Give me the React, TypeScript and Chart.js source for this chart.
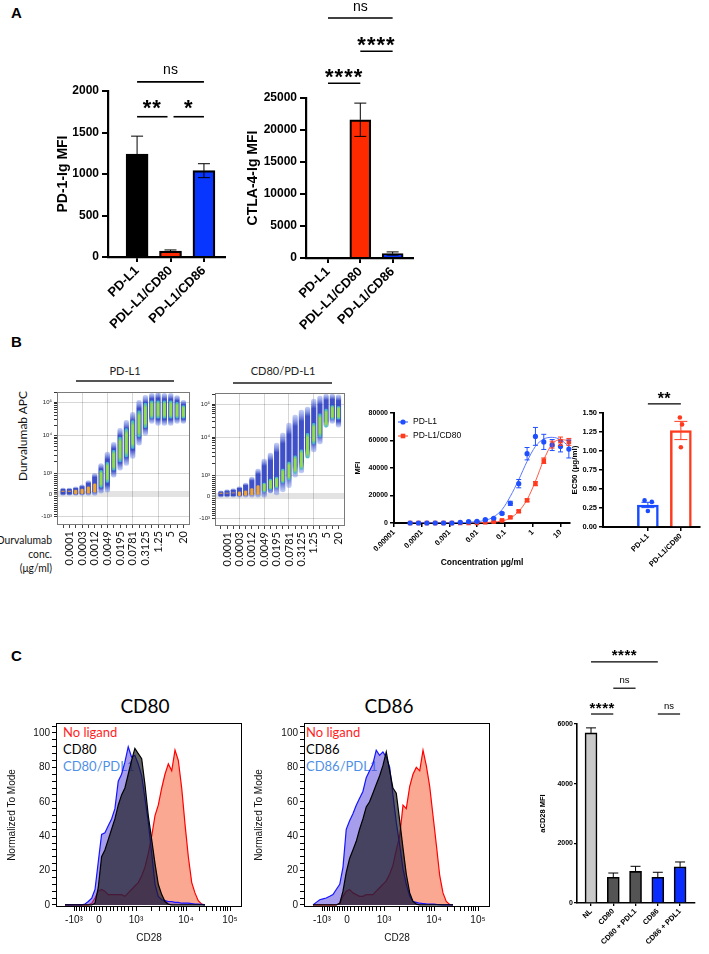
import React, { useEffect, useRef } from 'react';
import { Chart, registerables } from 'chart.js';

Chart.register(...registerables);

const ARIAL = '"Liberation Sans", Arial, Helvetica, sans-serif';
const CALIBRI = 'Lato, "Open Sans", "Liberation Sans", sans-serif';
Chart.defaults.color = '#000';
Chart.defaults.font.family = ARIAL;

// ---------------- Panel A data ----------------
const A_CATEGORIES = ['PD-L1', 'PDL-L1/CD80', 'PD-L1/CD86'];
const PD1_MEAN = [1240, 70, 1040];
const PD1_SEM = [216, 15, 84];
const CTLA4_MEAN = [40, 21600, 700];
const CTLA4_SEM = [15, 2600, 250];
const PD1_SIG = [
  { from: 0, to: 2, y: 2110, text: 'ns' },
  { from: 0, to: 1, y: 1690, text: '**' },
  { from: 1, to: 2, y: 1690, text: '*' },
];
const CTLA4_SIG = [
  { from: 0, to: 2, y: 37500, text: 'ns' },
  { from: 1, to: 2, y: 32300, text: '****' },
  { from: 0, to: 1, y: 27300, text: '****' },
];

// ---------------- Panel B data ----------------
const DURVA_TICK_LABELS = ['0.0001', '0.0003', '0.0012', '0.0049', '0.0195', '0.0781', '0.3125', '1.25', '5', '20'];
const PDL1_LO = [-50, -50, -50, -50, -50, -50, 50, 100, 810, 1200, 1620, 2480, 5460, 10000, 23000, 20000, 20000, 20000, 23000, 23000];
const PDL1_HI = [300, 300, 350, 450, 650, 1000, 1800, 3600, 6550, 16300, 28500, 49800, 115000, 163000, 187000, 200000, 187000, 187000, 160000, 115000];
const PDL1_CORE_LO = [0, 0, 20, 30, 50, 100, 330, 570, 1200, 2000, 2700, 4500, 9000, 17000, 33000, 33000, 33000, 33000, 33000, 33000];
const PDL1_CORE_HI = [150, 150, 200, 250, 350, 500, 1200, 1950, 4000, 9000, 16000, 28000, 55000, 95000, 110000, 110000, 110000, 110000, 100000, 80000];
const CD80PDL1_LO = [-50, -50, -50, -50, -50, -50, -50, -50, 0, 50, 200, 400, 900, 1130, 2800, 4030, 6550, 20100, 26000, 20000];
const CD80PDL1_HI = [250, 300, 350, 450, 620, 900, 1440, 2630, 3790, 6940, 13200, 26600, 46400, 65800, 81000, 142000, 175000, 200000, 200000, 190000];
const CD80PDL1_CORE_LO = [0, 0, 0, 20, 30, 50, 80, 190, 300, 380, 620, 760, 1100, 1400, 2800, 6600, 10000, 20000, 35000, 35000];
const CD80PDL1_CORE_HI = [120, 130, 150, 200, 250, 350, 500, 620, 800, 900, 1440, 2200, 3200, 4600, 13000, 26000, 50000, 70000, 90000, 85000];

const DOSE_CONC = [0.0000381, 0.0000763, 0.000153, 0.000305, 0.00061, 0.00122, 0.00244, 0.00488, 0.00977, 0.0195, 0.0391, 0.0781, 0.156, 0.3125, 0.625, 1.25, 2.5, 5, 10, 20];
const PDL1_MFI = [0, 0, 0, 0, 0, 0, 500, 1000, 1200, 2400, 3400, 7000, 14300, 28600, 50400, 63000, 59000, 56700, 55700, 53800];
const PDL1_MFI_SEM = [0, 0, 0, 0, 0, 0, 0, 300, 300, 400, 500, 700, 1500, 3000, 4500, 6500, 5500, 4000, 4000, 6500];
const CD80_MFI = [0, 0, 0, 0, 0, 0, 0, 0, 0, 500, 1000, 1900, 4100, 8500, 16500, 28600, 45300, 57000, 59500, 59000];
const CD80_MFI_SEM = [0, 0, 0, 0, 0, 0, 0, 0, 0, 0, 300, 400, 600, 800, 1000, 1500, 2000, 2500, 3000, 2500];
const PDL1_FIT = [0, 0, 0, 0, 0, 50, 200, 500, 1000, 1900, 4500, 9700, 19400, 31500, 44800, 55700, 61100, 62300, 60600, 55700];
const CD80_FIT = [0, 0, 0, 0, 0, 0, 0, 50, 100, 300, 700, 1500, 3600, 8500, 17000, 30300, 46000, 57400, 60600, 60000];
const DOSE_TICKS = [0.00001, 0.0001, 0.001, 0.01, 0.1, 1, 10];
const DOSE_TICK_LABELS = ['0.00001', '0.0001', '0.001', '0.01', '0.1', '1', '10'];

const EC50_CATEGORIES = ['PD-L1', 'PD-L1/CD80'];
const EC50_MEAN = [0.29, 1.27];
const EC50_SEM = [0.035, 0.12];
const EC50_PDL1_REPS = [0.35, 0.33, 0.21];
const EC50_CD80_REPS = [1.44, 1.35, 1.05];
const EC50_SIG = [{ from: 0, to: 1, y: 1.62, text: '**' }];

// ---------------- Panel C data ----------------
const CD28_BINS = [-1360, -1230, -1090, -960, -830, -690, -560, -430, -290, -160, -30, 70, 160, 250, 340, 430, 520, 610, 700, 790, 880, 970, 1110, 1300, 1510, 1760, 2060, 2400, 2790, 3270, 3800, 4430, 5180, 6030, 7020, 8200, 9550, 11300, 13500, 16000, 19000, 22700, 27000];
const CD80_NOLIGAND = [0, 0, 0, 0, 0, 0, 0, 0, 1, 4, 8, 9, 8, 6, 6, 6, 6, 6, 5, 7, 9, 11, 13, 17, 22, 30, 40, 52, 58, 68, 76, 82, 78, 90, 84, 68, 47, 28, 13, 7, 2.5, 0.5, 0];
const CD80_LIGAND = [0, 0, 0, 0, 0, 0, 0, 0, 0, 1, 10, 28, 32, 38, 44, 50, 58, 64, 68, 76, 84, 91, 88, 85, 70, 52, 38, 24, 12, 6, 2, 0.5, 0, 0, 0, 0, 0, 0, 0, 0, 0, 0, 0];
const CD80_PDL1 = [0, 0, 0, 0, 0, 0, 0.5, 2, 4, 9, 25, 41, 42, 46, 50, 56, 72, 76, 83, 92, 86, 87, 82, 75, 62, 48, 30, 12, 5, 3, 2.5, 2, 2, 1.5, 1.5, 1, 1, 1, 0.8, 0.5, 0.5, 0.3, 0];
const CD86_NOLIGAND = [0, 0, 0, 0, 0, 0, 0, 0, 1, 5, 8, 9, 7, 6, 5, 5, 6, 6, 6, 8, 10, 12, 14, 18, 23, 32, 40, 58, 56, 69, 76, 80, 78, 90, 81, 69, 52, 35, 17, 7, 2, 0.3, 0];
const CD86_LIGAND = [0, 0, 0, 0, 0, 0, 0, 0, 1, 8, 19, 27, 32, 37, 44, 50, 57, 60, 65, 70, 75, 81, 89, 78, 68, 65, 49, 33, 18, 7, 2, 0.5, 0, 0, 0, 0, 0, 0, 0, 0, 0, 0, 0];
const CD86_PDL1 = [0, 1.5, 3, 3.5, 4, 5, 6, 9, 12, 22, 44, 49, 53, 58, 62, 66, 74, 78, 82, 90, 87, 89, 86, 80, 64, 48, 35, 21, 12, 5, 2, 1.5, 1, 0.8, 0.6, 0.5, 0.5, 0.3, 0.2, 0, 0, 0, 0];

const C_CATEGORIES = ['NL', 'CD80', 'CD80 + PDL1', 'CD86', 'CD86 + PDL1'];
const ACD28_MEAN = [5700, 860, 1060, 860, 1210];
const ACD28_SEM = [170, 145, 170, 170, 165];
const ACD28_SIG = [
  { from: 0, to: 3, y: 8080, text: '****' },
  { from: 1, to: 2, y: 7200, text: 'ns' },
  { from: 0, to: 1, y: 6335, text: '****' },
  { from: 3, to: 4, y: 6335, text: 'ns' },
];

// ---------------- axis transforms (biexponential-like display) ----------------
function flowT(v: number) {
  if (v < 0) return (v / 1000) * 22;
  if (v <= 1000) return (v / 1000) * 21;
  if (v <= 1e4) return 21 + (Math.log10(v) - 3) * 38;
  return 59 + (Math.log10(v) - 4) * 33;
}
function histT(v: number) {
  if (v < 0) return (v / 1000) * 25;
  if (v <= 1000) return (v / 1000) * 37;
  if (v <= 1e4) return 37 + (Math.log10(v) - 3) * 50;
  return 87 + (Math.log10(v) - 4) * 44;
}
const plain = (v: any) => String(v);

// ---------------- plugins ----------------
const errorBarsPlugin = {
  id: 'errorBars',
  afterDatasetsDraw(chart: any) {
    const ctx = chart.ctx;
    chart.data.datasets.forEach((ds: any, di: number) => {
      if (!ds.errorBars) return;
      const meta = chart.getDatasetMeta(di);
      const ys = chart.scales[meta.yAxisID];
      meta.data.forEach((el: any, j: number) => {
        const e = ds.errorBars[j];
        if (!e) return;
        const raw = ds.data[j];
        const v = typeof raw === 'number' ? raw : raw.y;
        const x = el.x;
        const y0 = ys.getPixelForValue(v);
        const yUp = ys.getPixelForValue(v + e);
        const yDn = ys.getPixelForValue(v - e);
        const cap = ds.errorCap ?? 5;
        ctx.save();
        ctx.strokeStyle = Array.isArray(ds.errorColor) ? ds.errorColor[j] : ds.errorColor || '#000';
        ctx.lineWidth = ds.errorWidth || 1;
        ctx.beginPath();
        ctx.moveTo(x, y0);
        ctx.lineTo(x, yUp);
        ctx.moveTo(x - cap, yUp);
        ctx.lineTo(x + cap, yUp);
        if (ds.errorBoth) {
          ctx.moveTo(x, y0);
          ctx.lineTo(x, yDn);
          ctx.moveTo(x - cap, yDn);
          ctx.lineTo(x + cap, yDn);
        }
        ctx.stroke();
        ctx.restore();
      });
    });
  },
};

const sigPlugin = {
  id: 'sig',
  afterDraw(chart: any, _args: any, o: any) {
    if (!o || !o.items) return;
    const ctx = chart.ctx;
    const xs = chart.scales.x;
    const ys = chart.scales.y;
    ctx.save();
    o.items.forEach((it: any) => {
      let x1 = xs.getPixelForValue(it.from);
      let x2 = xs.getPixelForValue(it.to);
      o.items.forEach((q: any) => {
        if (q !== it && q.y === it.y) {
          if (q.from === it.to) x2 -= o.gap;
          if (q.to === it.from) x1 += o.gap;
        }
      });
      const y = ys.getPixelForValue(it.y);
      ctx.strokeStyle = '#000';
      ctx.lineWidth = o.lineWidth;
      ctx.beginPath();
      ctx.moveTo(x1, y);
      ctx.lineTo(x2, y);
      ctx.stroke();
      const star = it.text.startsWith('*');
      ctx.font = star ? o.starFont : o.nsFont;
      (ctx as any).letterSpacing = star ? o.starSpacing || '0px' : '0px';
      ctx.fillStyle = '#000';
      ctx.textAlign = 'center';
      ctx.textBaseline = 'alphabetic';
      const m = ctx.measureText(it.text);
      const mid = (m.actualBoundingBoxAscent - m.actualBoundingBoxDescent) / 2;
      const cy = y - (star ? o.starGap : o.nsGap);
      ctx.fillText(it.text, (x1 + x2) / 2, cy + mid);
      (ctx as any).letterSpacing = '0px';
    });
    ctx.restore();
  },
};

const framePlugin = {
  id: 'frame',
  afterDraw(chart: any, _a: any, o: any) {
    if (!o || !o.color) return;
    const { ctx, chartArea: a } = chart;
    ctx.save();
    ctx.strokeStyle = o.color;
    ctx.lineWidth = o.width || 1;
    ctx.strokeRect(Math.round(a.left) + 0.5, Math.round(a.top) + 0.5, Math.round(a.width) - 1, Math.round(a.height) - 1);
    ctx.restore();
  },
};

const doseLegendPlugin = {
  id: 'doseLegend',
  afterDraw(chart: any, _a: any, o: any) {
    if (!o || !o.show) return;
    const { ctx, chartArea: a } = chart;
    ctx.save();
    [0, 1].forEach((k) => {
      const ds = chart.data.datasets[k];
      const y = a.top + o.top + k * o.gap;
      const x0 = a.left + o.left;
      ctx.strokeStyle = ds.borderColor;
      ctx.fillStyle = ds.borderColor;
      ctx.lineWidth = 1;
      ctx.beginPath();
      ctx.moveTo(x0, y);
      ctx.lineTo(x0 + o.len, y);
      ctx.stroke();
      const cx = x0 + o.len / 2;
      ctx.beginPath();
      if (ds.pointStyle === 'rect') ctx.rect(cx - 2.3, y - 2.3, 4.6, 4.6);
      else ctx.arc(cx, y, 2.6, 0, Math.PI * 2);
      ctx.fill();
      ctx.fillStyle = '#000';
      ctx.font = o.font;
      ctx.textBaseline = 'middle';
      ctx.textAlign = 'left';
      ctx.fillText(ds.label, x0 + o.len + 5, y);
    });
    ctx.restore();
  },
};

const PLUGINS = [errorBarsPlugin, sigPlugin, framePlugin, doseLegendPlugin];

// ---------------- geometry helper ----------------
type Box = { cx: number; cy: number; cw: number; ch: number; L: number; T: number; R: number; B: number };
function geo(b: Box) {
  return {
    padding: { left: 0, top: b.T - b.cy, right: b.cx + b.cw - b.R, bottom: 0 },
    yWidth: b.L - b.cx,
    xHeight: b.cy + b.ch - b.B,
  };
}
const baseOptions = (b: Box) => ({
  responsive: false,
  animation: false,
  devicePixelRatio: 1,
  layout: { padding: geo(b).padding },
});

// ---------------- chart builders ----------------
const A1_BOX: Box = { cx: 40, cy: 55, cw: 195, ch: 285, L: 108, T: 91, R: 225, B: 257 };
const A2_BOX: Box = { cx: 240, cy: 0, cw: 200, ch: 340, L: 306, T: 98, R: 413, B: 258 };
const A_COLORS = ['#000000', '#ff2a00', '#0836ff'];

function buildA(box: Box, means: number[], sems: number[], xmin: number, ymax: number, step: number, title: string, titlePad: number, sig: any[], barTh: number, starGap: number) {
  const g = geo(box);
  return {
    type: 'bar',
    data: {
      datasets: [
        {
          data: means.map((y, i) => ({ x: i, y })),
          backgroundColor: A_COLORS,
          borderColor: '#000',
          borderWidth: 2.2,
          barThickness: barTh,
          errorBars: sems,
          errorBoth: true,
          errorColor: '#000',
          errorCap: 6,
          errorWidth: 1,
        },
      ],
    },
    options: {
      ...baseOptions(box),
      plugins: {
        legend: { display: false },
        tooltip: { enabled: false },
        sig: { items: sig, lineWidth: 1.6, gap: 3, starFont: `bold 22px ${ARIAL}`, starSpacing: '1px', nsFont: `14px ${ARIAL}`, starGap, nsGap: 11.5 },
      },
      scales: {
        x: {
          type: 'linear',
          min: xmin,
          max: 2.63,
          offset: false,
          afterBuildTicks: (s: any) => {
            s.ticks = A_CATEGORIES.map((_, i) => ({ value: i }));
          },
          afterFit: (s: any) => {
            s.height = g.xHeight;
          },
          ticks: {
            autoSkip: false,
            minRotation: 45,
            maxRotation: 45,
            padding: 1,
            font: { family: ARIAL, size: 13, weight: 'bold' },
            callback: (v: any) => A_CATEGORIES[v] ?? '',
          },
          grid: { drawOnChartArea: false, offset: false, color: '#000', lineWidth: 2, tickLength: 5 },
          border: { color: '#000', width: 2.2 },
        },
        y: {
          min: 0,
          max: ymax,
          ticks: { stepSize: step, padding: 3, font: { family: ARIAL, size: 12, weight: 'bold' }, callback: plain },
          afterFit: (s: any) => {
            s.width = g.yWidth;
          },
          grid: { drawOnChartArea: false, color: '#000', lineWidth: 2, tickLength: 6 },
          border: { color: '#000', width: 2.2 },
          title: { display: true, text: title, font: { family: ARIAL, size: 14, weight: 'bold' }, padding: { top: titlePad, bottom: 0 } },
        },
      },
    },
  };
}

const DOT1_BOX: Box = { cx: 0, cy: 360, cw: 200, ch: 220, L: 57, T: 392, R: 192, B: 525 };
const DOT2_BOX: Box = { cx: 165, cy: 360, cw: 190, ch: 220, L: 215, T: 393, R: 349, B: 526 };

function flowYTicks() {
  const majors = [
    { v: -1000, l: '-10³' },
    { v: 0, l: '0' },
    { v: 1000, l: '10³' },
    { v: 1e4, l: '10⁴' },
    { v: 1e5, l: '10⁵' },
  ];
  const minors: number[] = [];
  for (let k = 1; k <= 9; k++) {
    minors.push(-k * 100, k * 100);
  }
  for (let k = 2; k <= 9; k++) minors.push(k * 1000, k * 10000);
  minors.push(200000);
  const t = [...majors.map((m) => ({ value: flowT(m.v), lbl: m.l })), ...minors.map((v) => ({ value: flowT(v), lbl: '' }))];
  return t.sort((a, b) => a.value - b.value);
}

function blobFill(c: any, edge: string, mid: string, fallback: string) {
  const chart = c.chart;
  const ys = chart.scales && chart.scales.y;
  const raw = c.raw;
  if (!ys || !raw || !Array.isArray(raw.y) || !chart.chartArea) return fallback;
  const y1 = ys.getPixelForValue(raw.y[1]);
  const y0 = ys.getPixelForValue(raw.y[0]);
  if (!isFinite(y0) || !isFinite(y1) || Math.abs(y0 - y1) < 1) return fallback;
  const g = chart.ctx.createLinearGradient(0, y1, 0, y0);
  g.addColorStop(0, edge);
  g.addColorStop(0.18, mid);
  g.addColorStop(0.82, mid);
  g.addColorStop(1, edge);
  return g;
}

function buildDot(box: Box, lo: number[], hi: number[], cLo: number[], cHi: number[], ymin: number, ymax: number) {
  const g = geo(box);
  const toPts = (a: number[], b: number[]) => a.map((l, i) => ({ x: i + 1, y: [flowT(l), Math.min(flowT(b[i]), ymax)] }));
  return {
    type: 'bar',
    data: {
      datasets: [
        {
          data: toPts(cLo, cHi),
          backgroundColor: (c: any) => {
            const h = cHi[c.dataIndex];
            return h <= 600 ? '#f2a52a' : blobFill(c, 'rgba(60,190,210,0.9)', '#8fdd4c', '#8fdd4c');
          },
          borderWidth: 0,
          barThickness: 2.5,
          borderSkipped: false,
          borderRadius: 1.2,
          grouped: false,
          order: 0,
        },
        {
          data: toPts(lo, hi),
          backgroundColor: (c: any) => blobFill(c, 'rgba(90,120,230,0.35)', 'rgba(30,50,190,0.85)', 'rgba(30,50,190,0.85)'),
          barThickness: 4.5,
          borderSkipped: false,
          borderRadius: 2,
          grouped: false,
          order: 1,
        },
      ],
    },
    options: {
      ...baseOptions(box),
      plugins: { legend: { display: false }, tooltip: { enabled: false }, frame: { color: '#7a7a7a', width: 1 } },
      scales: {
        x: {
          type: 'linear',
          min: 0.05,
          max: 21.05,
          offset: false,
          afterBuildTicks: (s: any) => {
            s.ticks = DURVA_TICK_LABELS.flatMap((_, i) => [{ value: 2 * i + 1 }, { value: 2 * i + 2 }]);
          },
          afterFit: (s: any) => {
            s.height = g.xHeight;
          },
          ticks: {
            autoSkip: false,
            minRotation: 90,
            maxRotation: 90,
            padding: 3,
            font: { family: CALIBRI, size: 11 },
            color: '#111',
            callback: (v: any) => (v % 2 === 0 ? DURVA_TICK_LABELS[v / 2 - 1] : ''),
          },
          grid: {
            drawOnChartArea: true,
            offset: false,
            tickLength: 3,
            tickColor: '#444',
            tickWidth: 1,
            color: (c: any) => (c.tick && c.tick.value % 4 === 0 && c.tick.value < 20 ? 'rgba(0,0,0,0.16)' : 'rgba(0,0,0,0)'),
          },
          border: { display: false },
        },
        y: {
          min: ymin,
          max: ymax,
          afterBuildTicks: (s: any) => {
            s.ticks = flowYTicks();
          },
          afterFit: (s: any) => {
            s.width = g.yWidth;
          },
          ticks: { autoSkip: false, padding: 2, font: { family: ARIAL, size: 6 }, color: '#222', callback: (_v: any, i: number, t: any[]) => t[i].lbl },
          grid: {
            drawOnChartArea: true,
            tickLength: 3,
            tickColor: '#333',
            tickWidth: 1,
            color: (c: any) => (c.tick && c.tick.lbl ? (c.tick.value === 0 ? 'rgba(0,0,0,0.11)' : 'rgba(0,0,0,0.16)') : 'rgba(0,0,0,0)'),
            lineWidth: (c: any) => (c.tick && c.tick.value === 0 ? 6 : 1),
          },
          border: { display: false },
        },
      },
    },
  };
}

const DOSE_BOX: Box = { cx: 345, cy: 395, cw: 230, ch: 180, L: 394, T: 413, R: 570, B: 523 };
function buildDose() {
  const g = geo(DOSE_BOX);
  const pts = (ys: number[]) => DOSE_CONC.map((c, i) => ({ x: c, y: ys[i] }));
  const BLUE = '#1f4fff';
  const RED = '#ff3b1f';
  return {
    type: 'line',
    data: {
      datasets: [
        { label: 'PD-L1', data: pts(PDL1_MFI), showLine: false, pointStyle: 'circle', pointRadius: 2.6, pointBackgroundColor: BLUE, pointBorderColor: BLUE, pointBorderWidth: 0, borderColor: BLUE, errorBars: PDL1_MFI_SEM, errorBoth: true, errorColor: BLUE, errorCap: 2.5, clip: false },
        { label: 'PD-L1/CD80', data: pts(CD80_MFI), showLine: false, pointStyle: 'rect', pointRadius: 3.2, pointBackgroundColor: RED, pointBorderColor: RED, pointBorderWidth: 0, borderColor: RED, errorBars: CD80_MFI_SEM, errorBoth: true, errorColor: RED, errorCap: 2.5, clip: false },
        { data: pts(PDL1_FIT), borderColor: '#5a78ff', borderWidth: 1, pointRadius: 0, cubicInterpolationMode: 'monotone' },
        { data: pts(CD80_FIT), borderColor: '#ff5a48', borderWidth: 1, pointRadius: 0, cubicInterpolationMode: 'monotone' },
      ],
    },
    options: {
      ...baseOptions(DOSE_BOX),
      plugins: {
        legend: { display: false },
        tooltip: { enabled: false },
        doseLegend: { show: true, left: 4, top: 9, gap: 14, len: 10, font: `8.5px ${ARIAL}` },
      },
      scales: {
        x: {
          type: 'logarithmic',
          min: 0.00001,
          max: 22,
          afterBuildTicks: (s: any) => {
            s.ticks = DOSE_TICKS.map((v) => ({ value: v }));
          },
          afterFit: (s: any) => {
            s.height = g.xHeight;
          },
          ticks: { autoSkip: false, minRotation: 45, maxRotation: 45, padding: 1, font: { family: ARIAL, size: 7.5, weight: 'bold' }, callback: (_v: any, i: number) => DOSE_TICK_LABELS[i] },
          grid: { drawOnChartArea: false, color: '#000', lineWidth: 1.5, tickLength: 4 },
          border: { color: '#000', width: 2 },
          title: { display: true, text: 'Concentration μg/ml', font: { family: ARIAL, size: 8.5, weight: 'bold' }, padding: { top: 0, bottom: 7 } },
        },
        y: {
          min: 0,
          max: 80000,
          ticks: { stepSize: 20000, padding: 2, font: { family: ARIAL, size: 7, weight: 'bold' }, callback: plain },
          afterFit: (s: any) => {
            s.width = g.yWidth;
          },
          grid: { drawOnChartArea: false, color: '#000', lineWidth: 1.5, tickLength: 4 },
          border: { color: '#000', width: 2 },
          title: { display: true, text: 'MFI', font: { family: ARIAL, size: 7.5, weight: 'bold' }, padding: { top: 8.5, bottom: 0 } },
        },
      },
    },
  };
}

const EC50_BOX: Box = { cx: 565, cy: 388, cw: 144, ch: 222, L: 603, T: 413, R: 700, B: 527 };
const REP_JITTER = [-0.1, 0.12, 0];
function buildEC50() {
  const g = geo(EC50_BOX);
  const BLUE = '#1a4cff';
  const RED = '#ff3b1f';
  return {
    type: 'bar',
    data: {
      datasets: [
        { type: 'line', data: EC50_PDL1_REPS.map((y, k) => ({ x: 0 + REP_JITTER[k], y })), showLine: false, pointRadius: 2.3, pointBackgroundColor: BLUE, pointBorderWidth: 0 },
        { type: 'line', data: EC50_CD80_REPS.map((y, k) => ({ x: 1 + REP_JITTER[k] * 0.3, y })), showLine: false, pointRadius: 2.3, pointBackgroundColor: RED, pointBorderWidth: 0 },
        {
          data: EC50_MEAN.map((y, i) => ({ x: i, y })),
          backgroundColor: '#fff',
          borderColor: [BLUE, RED],
          borderWidth: 2.5,
          barThickness: 21,
          errorBars: EC50_SEM,
          errorBoth: true,
          errorColor: [BLUE, RED],
          errorCap: 6.5,
        },
      ],
    },
    options: {
      ...baseOptions(EC50_BOX),
      plugins: {
        legend: { display: false },
        tooltip: { enabled: false },
        sig: { items: EC50_SIG, lineWidth: 1.3, gap: 2, starFont: `bold 16px ${ARIAL}`, starSpacing: '0.5px', nsFont: `10px ${ARIAL}`, starGap: 8.5, nsGap: 8 },
      },
      scales: {
        x: {
          type: 'linear',
          min: -1.36,
          max: 1.58,
          offset: false,
          afterBuildTicks: (s: any) => {
            s.ticks = EC50_CATEGORIES.map((_, i) => ({ value: i }));
          },
          afterFit: (s: any) => {
            s.height = g.xHeight;
          },
          ticks: { autoSkip: false, minRotation: 45, maxRotation: 45, padding: 1, font: { family: ARIAL, size: 7.5, weight: 'bold' }, callback: (v: any) => EC50_CATEGORIES[v] ?? '' },
          grid: { drawOnChartArea: false, offset: false, color: '#000', lineWidth: 1.5, tickLength: 4 },
          border: { color: '#000', width: 2 },
        },
        y: {
          min: 0,
          max: 1.5,
          ticks: { stepSize: 0.25, padding: 2, font: { family: ARIAL, size: 7.5, weight: 'bold' }, callback: (v: any) => Number(v).toFixed(2) },
          afterFit: (s: any) => {
            s.width = g.yWidth;
          },
          grid: { drawOnChartArea: false, color: '#000', lineWidth: 1.5, tickLength: 4 },
          border: { color: '#000', width: 2 },
          title: { display: true, text: 'EC50 (μg/ml)', font: { family: ARIAL, size: 8, weight: 'bold' }, padding: { top: 5, bottom: 0 } },
        },
      },
    },
  };
}

const H80_BOX: Box = { cx: 0, cy: 715, cw: 250, ch: 239, L: 56, T: 722, R: 242, B: 907 };
const H86_BOX: Box = { cx: 248, cy: 715, cw: 250, ch: 239, L: 304, T: 722, R: 490, B: 907 };

function histXTicks() {
  const majors = [
    { v: -1000, l: '-10³' },
    { v: 0, l: '0' },
    { v: 1000, l: '10³' },
    { v: 1e4, l: '10⁴' },
    { v: 1e5, l: '10⁵' },
  ];
  const minors: number[] = [];
  for (let k = 1; k <= 9; k++) minors.push(-k * 100, k * 100);
  for (let k = 2; k <= 9; k++) minors.push(k * 1000, k * 10000);
  const t = [...majors.map((m) => ({ value: histT(m.v), lbl: m.l })), ...minors.map((v) => ({ value: histT(v), lbl: '' }))];
  return t.sort((a, b) => a.value - b.value);
}

function buildHist(box: Box, ligand: number[], ligandPdl1: number[], noLigand: number[], titlePad: number) {
  const g = geo(box);
  const pts = (arr: number[]) => arr.map((y, i) => ({ x: histT(CD28_BINS[i]), y }));
  const line = { pointRadius: 0, tension: 0, borderWidth: 1.2, fill: 'origin' };
  return {
    type: 'line',
    data: {
      datasets: [
        { ...line, data: pts(ligand), borderColor: '#000000', backgroundColor: 'rgba(25,25,30,0.68)' },
        { ...line, data: pts(ligandPdl1), borderColor: '#1515ff', backgroundColor: 'rgba(80,60,220,0.5)' },
        { ...line, data: pts(noLigand), borderColor: '#ff0000', backgroundColor: 'rgba(248,110,75,0.6)' },
      ],
    },
    options: {
      ...baseOptions(box),
      plugins: { legend: { display: false }, tooltip: { enabled: false }, frame: { color: '#000', width: 1 } },
      scales: {
        x: {
          type: 'linear',
          min: -43,
          max: 143,
          afterBuildTicks: (s: any) => {
            s.ticks = histXTicks();
          },
          afterFit: (s: any) => {
            s.height = g.xHeight;
          },
          ticks: { autoSkip: false, maxRotation: 0, minRotation: 0, padding: 3, font: { family: ARIAL, size: 10 }, color: '#111', callback: (_v: any, i: number, t: any[]) => t[i].lbl },
          grid: { drawOnChartArea: false, color: '#000', lineWidth: 1, tickLength: 4 },
          border: { display: false },
          title: { display: true, text: 'CD28', font: { family: ARIAL, size: 10 }, color: '#111', padding: { top: 0, bottom: 10 } },
        },
        y: {
          min: -1.2,
          max: 105.8,
          afterBuildTicks: (s: any) => {
            const t: any[] = [];
            for (let v = 0; v <= 104; v += 4) t.push({ value: v, lbl: v % 20 === 0 ? String(v) : '' });
            s.ticks = t;
          },
          afterFit: (s: any) => {
            s.width = g.yWidth;
          },
          ticks: { autoSkip: false, padding: 2, font: { family: ARIAL, size: 10 }, color: '#111', callback: (_v: any, i: number, t: any[]) => t[i].lbl },
          grid: { drawOnChartArea: false, color: '#000', lineWidth: 1, tickLength: 4 },
          border: { display: false },
          title: { display: true, text: 'Normalized To Mode', font: { family: ARIAL, size: 10 }, color: '#111', padding: { top: titlePad, bottom: 0 } },
        },
      },
    },
  };
}

const CB_BOX: Box = { cx: 510, cy: 640, cw: 199, ch: 314, L: 577, T: 724, R: 695, B: 903 };
function buildCBar() {
  const g = geo(CB_BOX);
  return {
    type: 'bar',
    data: {
      datasets: [
        {
          data: ACD28_MEAN.map((y, i) => ({ x: i, y })),
          backgroundColor: ['#c9c9c9', '#545454', '#545454', '#0a2cff', '#0a2cff'],
          borderColor: '#000',
          borderWidth: 1.6,
          barThickness: 12,
          errorBars: ACD28_SEM,
          errorBoth: false,
          errorColor: '#000',
          errorCap: 5,
        },
      ],
    },
    options: {
      ...baseOptions(CB_BOX),
      plugins: {
        legend: { display: false },
        tooltip: { enabled: false },
        sig: { items: ACD28_SIG, lineWidth: 1.2, gap: 2, starFont: `bold 15px ${ARIAL}`, starSpacing: '0.5px', nsFont: `9.5px ${ARIAL}`, starGap: 8.5, nsGap: 8 },
      },
      scales: {
        x: {
          type: 'linear',
          min: -0.63,
          max: 4.67,
          offset: false,
          afterBuildTicks: (s: any) => {
            s.ticks = C_CATEGORIES.map((_, i) => ({ value: i }));
          },
          afterFit: (s: any) => {
            s.height = g.xHeight;
          },
          ticks: { autoSkip: false, minRotation: 45, maxRotation: 45, padding: 1, font: { family: ARIAL, size: 7.5, weight: 'bold' }, callback: (v: any) => C_CATEGORIES[v] ?? '' },
          grid: { drawOnChartArea: false, offset: false, color: '#000', lineWidth: 1.3, tickLength: 3 },
          border: { color: '#000', width: 1.6 },
        },
        y: {
          min: 0,
          max: 6000,
          ticks: { stepSize: 2000, padding: 1, font: { family: ARIAL, size: 7, weight: 'bold' }, callback: plain },
          afterFit: (s: any) => {
            s.width = g.yWidth;
          },
          grid: { drawOnChartArea: false, color: '#000', lineWidth: 1.3, tickLength: 3 },
          border: { color: '#000', width: 1.6 },
          title: { display: true, text: 'aCD28 MFI', font: { family: ARIAL, size: 7.5, weight: 'bold' }, padding: { top: 28, bottom: 0 } },
        },
      },
    },
  };
}

// ---------------- components ----------------
function ChartCanvas({ box, build }: { box: Box; build: () => any }) {
  const ref = useRef<HTMLCanvasElement>(null);
  useEffect(() => {
    const cfg = build();
    cfg.plugins = PLUGINS;
    const chart = new Chart(ref.current as HTMLCanvasElement, cfg);
    return () => chart.destroy();
  }, []);
  return <canvas ref={ref} width={box.cw} height={box.ch} style={{ position: 'absolute', left: box.cx, top: box.cy, width: box.cw, height: box.ch }} />;
}

const abs = (s: any) => ({ position: 'absolute' as const, whiteSpace: 'nowrap' as const, margin: 0, ...s });
const centered = (x: number, y: number, s: any) => abs({ left: x, top: y, transform: 'translate(-50%,-50%)', ...s });

export default function App() {
  const letter = { font: `bold 15px ${ARIAL}`, lineHeight: '15px', color: '#000' };
  const legendFont = { font: `13px ${CALIBRI}`, lineHeight: '16px' };
  return (
    <div style={{ position: 'absolute', left: 0, top: 0, width: 709, height: 954, overflow: 'hidden', background: '#fff' }}>
      <div style={abs({ left: 11, top: 5, ...letter })}>A</div>
      <div style={abs({ left: 11, top: 334, ...letter })}>B</div>
      <div style={abs({ left: 11, top: 648, ...letter })}>C</div>

      <ChartCanvas box={A1_BOX} build={() => buildA(A1_BOX, PD1_MEAN, PD1_SEM, -0.87, 2000, 500, 'PD-1-Ig MFI', 14.6, PD1_SIG, 22, 12)} />
      <ChartCanvas box={A2_BOX} build={() => buildA(A2_BOX, CTLA4_MEAN, CTLA4_SEM, -0.68, 25000, 5000, 'CTLA-4-Ig MFI', 4.4, CTLA4_SIG, 21, 10)} />

      <div style={centered(125, 370, { font: `11px ${CALIBRI}`, color: '#222' })}>PD-L1</div>
      <div style={abs({ left: 76, top: 380, width: 98, height: 1.5, background: '#555' })} />
      <div style={centered(283, 370, { font: `11px ${CALIBRI}`, color: '#222' })}>CD80/PD-L1</div>
      <div style={abs({ left: 233, top: 382, width: 99, height: 1.5, background: '#555' })} />
      <div style={centered(22, 436, { font: `12px ${CALIBRI}`, color: '#111', transform: 'translate(-50%,-50%) rotate(-90deg)' })}>Durvalumab  APC</div>
      <div style={abs({ left: -60, width: 112, top: 533, textAlign: 'right', font: `12px ${CALIBRI}`, lineHeight: '14px', color: '#111', whiteSpace: 'normal', transform: 'scaleX(0.86)', transformOrigin: 'right center' })}>
        Durvalumab
        <br />
        conc.
        <br />
        (μg/ml)
      </div>
      <ChartCanvas box={DOT1_BOX} build={() => buildDot(DOT1_BOX, PDL1_LO, PDL1_HI, PDL1_CORE_LO, PDL1_CORE_HI, -30.7, 102.3)} />
      <ChartCanvas box={DOT2_BOX} build={() => buildDot(DOT2_BOX, CD80PDL1_LO, CD80PDL1_HI, CD80PDL1_CORE_LO, CD80PDL1_CORE_HI, -30, 103)} />
      <ChartCanvas box={DOSE_BOX} build={buildDose} />
      <ChartCanvas box={EC50_BOX} build={buildEC50} />

      <div style={centered(145, 705, { font: `19px ${CALIBRI}`, color: '#000' })}>CD80</div>
      <div style={centered(389, 705, { font: `19px ${CALIBRI}`, color: '#000' })}>CD86</div>
      <div style={abs({ left: 63, top: 724, color: '#ff1f1f', ...legendFont })}>No ligand</div>
      <div style={abs({ left: 63, top: 741, color: '#000', ...legendFont })}>CD80</div>
      <div style={abs({ left: 63, top: 758, color: '#4f8fe6', ...legendFont })}>CD80/PDL1</div>
      <div style={abs({ left: 306, top: 724, color: '#ff1f1f', ...legendFont })}>No ligand</div>
      <div style={abs({ left: 306, top: 741, color: '#000', ...legendFont })}>CD86</div>
      <div style={abs({ left: 306, top: 758, color: '#4f8fe6', ...legendFont })}>CD86/PDL1</div>
      <ChartCanvas box={H80_BOX} build={() => buildHist(H80_BOX, CD80_LIGAND, CD80_PDL1, CD80_NOLIGAND, 6.5)} />
      <ChartCanvas box={H86_BOX} build={() => buildHist(H86_BOX, CD86_LIGAND, CD86_PDL1, CD86_NOLIGAND, 5)} />
      <ChartCanvas box={CB_BOX} build={buildCBar} />
    </div>
  );
}
